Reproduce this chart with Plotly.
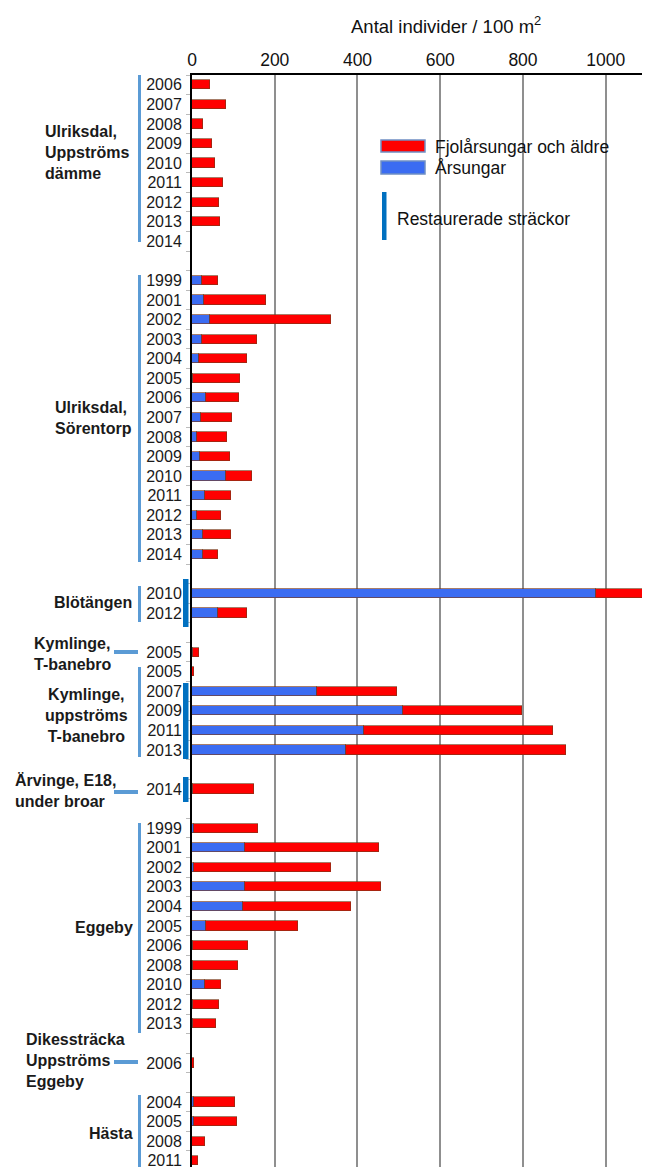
import plotly.graph_objects as go

FONT = "Liberation Sans, Arial, sans-serif"

# ---------------- data ----------------
g1_name = "Ulriksdal,<br>Uppströms<br>dämme"
g1_years = ["2006", "2007", "2008", "2009", "2010", "2011", "2012", "2013", "2014"]
g1_blue = [0, 0, 0, 0, 0, 0, 0, 0, 0]
g1_red = [43, 81, 26, 48, 55, 74, 65, 68, 0]

g2_name = "Ulriksdal,<br>Sörentorp"
g2_years = ["1999", "2001", "2002", "2003", "2004", "2005", "2006", "2007",
            "2008", "2009", "2010", "2011", "2012", "2013", "2014"]
g2_blue = [24, 30, 43, 23, 17, 3, 35, 21, 12, 19, 82, 31, 13, 27, 26]
g2_red = [40, 150, 292, 135, 117, 112, 79, 76, 73, 74, 62, 64, 56, 68, 38]

g3_name = "Blötängen"
g3_years = ["2010", "2012"]
g3_blue = [977, 62]
g3_red = [123, 71]

g4_name = "Kymlinge,<br>T-banebro"
g4_years = ["2005"]
g4_blue = [2]
g4_red = [14]

g5_name = "Kymlinge,<br>uppströms<br>T-banebro"
g5_years = ["2005", "2007", "2009", "2011", "2013"]
g5_blue = [0, 302, 510, 416, 372]
g5_red = [5, 194, 287, 457, 532]

g6_name = "Ärvinge, E18,<br>under broar"
g6_years = ["2014"]
g6_blue = [3]
g6_red = [147]

g7_name = "Eggeby"
g7_years = ["1999", "2001", "2002", "2003", "2004", "2005", "2006", "2008",
            "2010", "2012", "2013"]
g7_blue = [6, 127, 6, 127, 124, 35, 3, 2, 31, 2, 2]
g7_red = [154, 325, 331, 331, 260, 221, 133, 110, 40, 64, 55]

g8_name = "Dikessträcka<br>Uppströms<br>Eggeby"
g8_years = ["2006"]
g8_blue = [0]
g8_red = [6]

g9_name = "Hästa"
g9_years = ["2004", "2005", "2008", "2011"]
g9_blue = [4, 4, 0, 0]
g9_red = [101, 104, 31, 15]

tick_values_x = [0, 200, 400, 600, 800, 1000]
series_names = ["Fjolårsungar och äldre", "Årsungar"]
x_title = "Antal individer / 100 m<sup>2</sup>"
legend_restored = "Restaurerade sträckor"

groups = [
    (g1_years, g1_blue, g1_red, 0),
    (g2_years, g2_blue, g2_red, 1),
    (g3_years, g3_blue, g3_red, 1),
    (g4_years, g4_blue, g4_red, 1),
    (g5_years, g5_blue, g5_red, 0),
    (g6_years, g6_blue, g6_red, 1),
    (g7_years, g7_blue, g7_red, 1),
    (g8_years, g8_blue, g8_red, 1),
    (g9_years, g9_blue, g9_red, 1),
]

# ---------------- build rows ----------------
slots, labels, blues, reds = [], [], [], []
pos = -1
for years, b, r, gap in groups:
    pos += gap
    for yy, bb, rr in zip(years, b, r):
        pos += 1
        slots.append(pos)
        labels.append(yy)
        blues.append(bb)
        reds.append(rr)

# page geometry (the page body adds an 8 px offset)
W, H = 650, 1167
OFF = 8
P_L, P_T, P_R, P_B = 192, 75, 650, 1167   # plot area in page pixels
PW, PH = P_R - P_L, P_B - P_T


def px(x):
    return (x - P_L) / PW


def py(y):
    return (P_B - y) / PH


RED = "#ff0000"
BLUE = "#3b6cf2"
OUT = "rgba(120,55,25,0.65)"

fig = go.Figure()
fig.add_trace(go.Bar(y=slots, x=blues, orientation="h", name=series_names[1],
                     marker=dict(color=BLUE, line=dict(color=OUT, width=1)),
                     width=0.47, showlegend=False))
fig.add_trace(go.Bar(y=slots, x=reds, orientation="h", name=series_names[0],
                     marker=dict(color=RED, line=dict(color=OUT, width=1)),
                     width=0.47, showlegend=False))

shapes = []
annotations = []

# legend background (covers gridlines)
shapes.append(dict(type="rect", xref="paper", yref="paper", layer="between",
                   x0=px(370), x1=px(616), y0=py(252), y1=py(129),
                   fillcolor="white", line=dict(width=0)))
# swatches
shapes.append(dict(type="rect", xref="paper", yref="paper",
                   x0=px(381), x1=px(425), y0=py(152), y1=py(140),
                   fillcolor=RED, line=dict(color="#6f8fc4", width=1.5)))
shapes.append(dict(type="rect", xref="paper", yref="paper",
                   x0=px(381), x1=px(425), y0=py(174), y1=py(161),
                   fillcolor=BLUE, line=dict(color="#6f8fc4", width=1.5)))
shapes.append(dict(type="rect", xref="paper", yref="paper",
                   x0=px(382), x1=px(386.5), y0=py(240), y1=py(192),
                   fillcolor="#0070c0", line=dict(width=0)))
for txt, yy in [(series_names[0], 147), (series_names[1], 168), (legend_restored, 219)]:
    annotations.append(dict(text=txt, xref="paper", yref="paper",
                            x=px(433 if yy < 200 else 395), y=py(yy),
                            xanchor="left", yanchor="middle", showarrow=False,
                            font=dict(family=FONT, size=17.5, color="#111")))

# group brackets (light blue)
LB = "#5b9bd5"
for y0, y1 in [(75, 242), (275, 562), (586, 622), (667, 757), (823, 1033), (1095, 1175)]:
    shapes.append(dict(type="line", xref="paper", yref="paper",
                       x0=px(139.5), x1=px(139.5), y0=py(y0), y1=py(y1),
                       line=dict(color=LB, width=3)))
for yy in [652, 792, 1062]:
    shapes.append(dict(type="line", xref="paper", yref="paper",
                       x0=px(114), x1=px(138), y0=py(yy), y1=py(yy),
                       line=dict(color=LB, width=4)))
# restored sections (dark blue)
for y0, y1 in [(579, 627), (683, 759), (777, 802)]:
    shapes.append(dict(type="rect", xref="paper", yref="paper",
                       x0=px(183), x1=px(188.5), y0=py(y1), y1=py(y0),
                       fillcolor="#0070c0", line=dict(width=0)))

# group labels
group_label_pos = [
    (g1_name, 43, 153, "left"),
    (g2_name, 53, 418, "left"),
    (g3_name, 52, 603, "left"),
    (g4_name, 32, 653.5, "left"),
    (g5_name, 86, 715, "center"),
    (g6_name, 13, 790.5, "left"),
    (g7_name, 73, 927, "left"),
    (g8_name, 24, 1060, "left"),
    (g9_name, 87, 1133, "left"),
]
for txt, xx, yy, al in group_label_pos:
    annotations.append(dict(text="<b>" + txt.replace("<br>", "</b><br><b>") + "</b>",
                            xref="paper", yref="paper",
                            x=px(xx), y=py(yy), xanchor=al if al == "left" else "center",
                            yanchor="middle", align=al, showarrow=False,
                            font=dict(family=FONT, size=16, color="#1a1a1a")))

# axis title
annotations.append(dict(text=x_title, xref="paper", yref="paper", x=px(446), y=py(25),
                        xanchor="center", yanchor="middle", showarrow=False,
                        font=dict(family=FONT, size=18.5, color="#111")))

fig.update_layout(
    width=W, height=H,
    margin=dict(l=P_L - OFF, r=W - P_R + OFF, t=P_T - OFF, b=H - P_B + OFF,
                autoexpand=False),
    paper_bgcolor="white", plot_bgcolor="white",
    barmode="stack", bargap=0,
    shapes=shapes, annotations=annotations,
    showlegend=False,
    xaxis=dict(range=[0, 1107], side="top", tickmode="array", tickvals=tick_values_x,
               showgrid=True, gridcolor="#8f8f8f", gridwidth=1.5, automargin=False,
               showline=True, linecolor="black", linewidth=2, ticks="",
               zeroline=False, tickfont=dict(family=FONT, size=17.5, color="#111")),
    yaxis=dict(range=[55.32, -0.5], tickmode="array", tickvals=slots, ticktext=labels,
               showgrid=False, zeroline=False, showline=True, linecolor="black",
               linewidth=2, ticks="", ticklabelstandoff=5, automargin=False,
               tickfont=dict(family=FONT, size=16, color="#1a1a1a"),
               minor=dict(tickmode="linear", tick0=0.5, dtick=1, ticks="outside",
                          ticklen=4, tickcolor="#bbbbbb", tickwidth=1, showgrid=False)),
)

fig.write_html("out.html")
